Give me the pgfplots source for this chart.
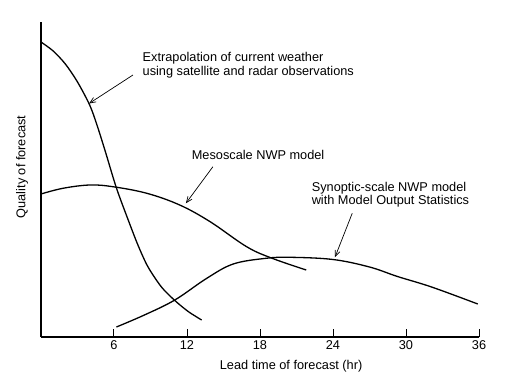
\documentclass[border=0pt]{standalone}
\usepackage{pgfplots}
\pgfplotsset{compat=1.18}
\usepackage{fontspec}
\setmainfont{Liberation Sans}
\usetikzlibrary{arrows.meta}
\newcommand{\lf}{\fontsize{12.8}{14}\selectfont}
\begin{document}
\begin{tikzpicture}
\useasboundingbox (-41bp,-47bp) rectangle (489bp,337bp);
\begin{axis}[
  at={(0,0)}, anchor=south west,
  scale only axis, width=438bp, height=315bp,
  xmin=0, xmax=36, ymin=0, ymax=315,
  axis x line=bottom, axis y line=left,
  axis line style={-, line width=1.3bp},
  xtick={6,12,18,24,30,36},
  xticklabels={6,12,18,24,30,36},
  ytick=\empty,
  tick align=inside, major tick length=8bp,
  xtick style={line width=1bp, black},
  xticklabel style={font=\lf},
  xlabel={Lead time of forecast (hr)},
  ylabel={Quality of forecast},
  xlabel style={font=\lf, at={(axis description cs:0.571,-0.094)}, anchor=center},
  ylabel style={font=\lf, at={(axis description cs:-0.0434,0.54)}, anchor=center},
  clip=false,
]
% Extrapolation
\addplot[black, line width=1.3bp, smooth, tension=0.5] coordinates {
 (0,295) (1,286) (2,273) (3,255) (4,232) (4.6,212) (5.3,185) (6.2,149)
 (7.2,116) (8.0,91) (8.8,70) (9.9,50) (11.0,36.5) (12.1,25.5) (13.2,17)};
% Mesoscale
\addplot[black, line width=1.3bp, smooth, tension=0.6] coordinates {
 (0,143) (1.8,148.7) (4.0,152) (5.9,150.3) (8.7,143.7) (11.4,132) (13.9,115.3)
 (16.9,90.3) (19.0,78.7) (21.8,67)};
% Synoptic
\addplot[black, line width=1.3bp, smooth, tension=0.6] coordinates {
 (6.2,10) (8.5,22) (11.0,37) (13.6,58.5) (15.8,73) (18.5,78.7) (20.5,79.7)
 (24,77.5) (27,70) (29.3,60.5) (32.1,50) (35.9,33)};
% annotations
\draw[line width=0.7bp, -{Straight Barb[length=6bp,width=5bp]}] (axis cs:7.56,262) -- (axis cs:3.95,233.5);
\draw[line width=0.7bp, -{Straight Barb[length=6bp,width=5bp]}] (axis cs:14.13,170.3) -- (axis cs:11.91,133.7);
\draw[line width=0.7bp, -{Straight Barb[length=6bp,width=5bp]}] (axis cs:25.58,123.7) -- (axis cs:24.16,79.7);
\node[anchor=west, align=left, inner sep=0pt, font=\lf] at (axis cs:8.34,272)
  {Extrapolation of current weather\\using satellite and radar observations};
\node[anchor=west, inner sep=0pt, font=\lf] at (axis cs:12.38,182) {Mesoscale NWP model};
\node[anchor=west, align=left, inner sep=0pt, font=\lf] at (axis cs:22.24,142.3)
  {Synoptic-scale NWP model\\with Model Output Statistics};
\end{axis}
\end{tikzpicture}
\end{document}
